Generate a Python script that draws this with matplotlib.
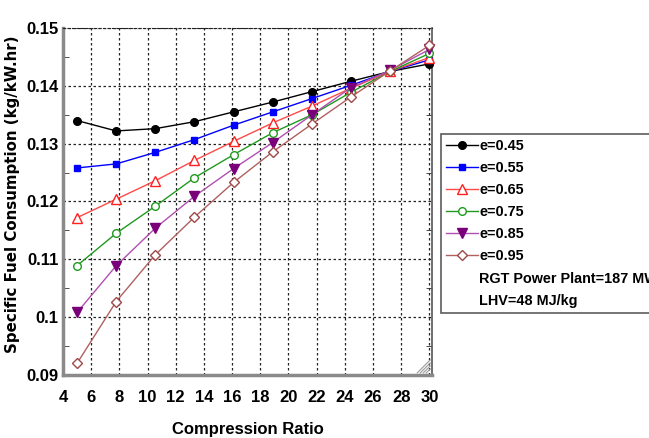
import matplotlib
matplotlib.use("Agg")
import matplotlib.pyplot as plt
from matplotlib.lines import Line2D
from matplotlib.ticker import MultipleLocator

# ── DATA ───────────────────────────────────────────────────────────────────────
compression_ratio = [5, 7.78, 10.56, 13.33, 16.11, 18.89, 21.67, 24.44, 27.22, 30]

sfc_045 = [0.1340, 0.1322, 0.1326, 0.1338, 0.1355, 0.1372, 0.1390, 0.1408, 0.1425, 0.1438]
sfc_055 = [0.1258, 0.1265, 0.1285, 0.1307, 0.1332, 0.1355, 0.1378, 0.1401, 0.1425, 0.1445]
sfc_065 = [0.1172, 0.1204, 0.1236, 0.1271, 0.1304, 0.1336, 0.1365, 0.1396, 0.1425, 0.1449]
sfc_075 = [0.1089, 0.1145, 0.1192, 0.1241, 0.1281, 0.1319, 0.1350, 0.1389, 0.1425, 0.1456]
sfc_085 = [0.1008, 0.1089, 0.1154, 0.1209, 0.1257, 0.1302, 0.1350, 0.1397, 0.1427, 0.1463]
sfc_095 = [0.0920, 0.1027, 0.1108, 0.1173, 0.1233, 0.1286, 0.1334, 0.1381, 0.1426, 0.1470]

labels = ["e=0.45", "e=0.55", "e=0.65", "e=0.75", "e=0.85", "e=0.95"]
notes = ["RGT Power Plant=187 MW", "LHV=48 MJ/kg"]
x_ticks = [4, 6, 8, 10, 12, 14, 16, 18, 20, 22, 24, 26, 28, 30]
y_ticks = [0.09, 0.10, 0.11, 0.12, 0.13, 0.14, 0.15]
y_tick_labels = ["0.09", "0.1", "0.11", "0.12", "0.13", "0.14", "0.15"]

# line colour, marker, marker face, marker edge, marker size
STYLES = [
    ("#000000", "o", "#000000", "#000000", 5.5),
    ("#0000ff", "s", "#0000ff", "#0000ff", 4.5),
    ("#ff4a4a", "^", "white", "#ff2020", 6.5),
    ("#1f9a1f", "o", "white", "#1f9a1f", 5.5),
    ("#b050b0", "v", "#7a007a", "#7a007a", 6.5),
    ("#b06060", "D", "white", "#a04848", 5.0),
]

FONT = ["Liberation Sans", "DejaVu Sans"]
plt.rcParams["font.family"] = FONT

fig = plt.figure(figsize=(6.49, 4.38), dpi=100)
ax = fig.add_axes([0.097, 0.144, 0.569, 0.792])

series = [sfc_045, sfc_055, sfc_065, sfc_075, sfc_085, sfc_095]
handles = []
for vals, lab, (lc, mk, mfc, mec, ms) in zip(series, labels, STYLES):
    h, = ax.plot(compression_ratio, vals, color=lc, lw=1.0, marker=mk,
                 markersize=ms, markerfacecolor=mfc, markeredgecolor=mec,
                 markeredgewidth=1.0, label=lab, clip_on=False, zorder=3)
    handles.append(h)

ax.set_xlim(4, 30.2)
ax.set_ylim(0.09, 0.15)
ax.set_xticks(x_ticks)
ax.set_yticks(y_ticks)
ax.set_yticklabels(y_tick_labels)
ax.yaxis.set_minor_locator(MultipleLocator(0.005))
ax.grid(True, which="major", color="#222222", linestyle=(0, (2, 2)), lw=0.9)
ax.tick_params(axis="x", which="major", length=0, pad=11, labelsize=12)
ax.tick_params(axis="y", which="major", length=0, pad=3, labelsize=12)
ax.tick_params(axis="y", which="minor", direction="in", length=4,
               left=True, right=True, color="#333333")
for t in ax.get_xticklabels() + ax.get_yticklabels():
    t.set_fontweight("bold")

for side in ("left", "bottom"):
    ax.spines[side].set_color("#8a8a8a")
    ax.spines[side].set_linewidth(2.5)
ax.spines["right"].set_color("#555555")
ax.spines["right"].set_linewidth(1.2)
ax.spines["top"].set_color("#222222")
ax.spines["top"].set_linestyle((0, (2, 2)))

# resize grip in the lower right corner (sizes in pixels of the axes box)
ax_w, ax_h = 369.0, 347.0
for d in (4, 7, 10, 13):
    ax.plot([1 - 2 / ax_w - d / ax_w, 1 - 2 / ax_w],
            [2 / ax_h, 2 / ax_h + d / ax_h],
            transform=ax.transAxes, color="#9a9a9a", lw=0.8, clip_on=False)

ax.set_xlabel("Compression Ratio", fontsize=12, fontweight="bold", labelpad=12)
ax.set_ylabel("Specific Fuel Consumption (kg/kW.hr)", fontsize=10.8,
              fontweight="bold", family=["DejaVu Sans"])
ax.yaxis.set_label_coords(-0.115, 0.52)

# extra legend rows that only carry text
blank = [Line2D([], [], color="none") for _ in notes]
leg = fig.legend(handles + blank, labels + notes, loc="upper left",
                 bbox_to_anchor=(441 / 649, 1 - 134 / 438),
                 frameon=True, fancybox=False, edgecolor="#333333",
                 handlelength=2.2, handletextpad=0.1, labelspacing=0.56,
                 borderpad=0.35, borderaxespad=0,
                 prop={"size": 10.4, "weight": "bold"})
leg.get_frame().set_linewidth(1.2)

fig.savefig("out.png", dpi=100)
